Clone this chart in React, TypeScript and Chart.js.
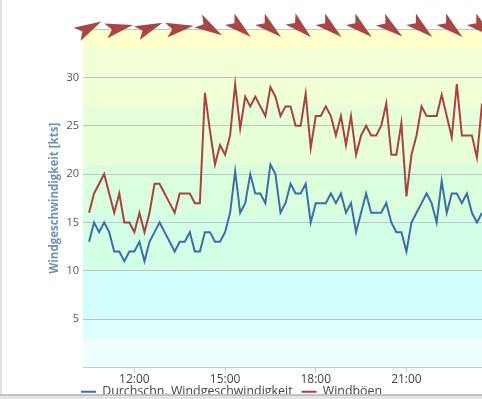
import React, { useEffect, useRef } from "react";
import { Chart, registerables } from "chart.js";

Chart.register(...registerables);

// ---- data ----
const firstTime = 630; // 10:30 in minutes of the day
const stepMinutes = 10;
const avgSpeed = [
  13, 15, 14, 15, 14, 12, 12, 11, 12, 12, 13, 11, 13, 14, 15, 14, 13, 12, 13, 13,
  14, 12, 12, 14, 14, 13, 13, 14, 16, 20.3, 16, 17, 20, 18, 18, 17, 21, 20, 16, 17,
  19, 18, 18, 19, 15, 17, 17, 17, 18, 17, 18, 16, 17, 14, 16, 18, 16, 16, 16, 17,
  15, 14, 14, 12, 15, 16, 17, 18, 17, 15, 19.3, 16, 18, 18, 17, 18, 16, 15, 16,
];
const gusts = [
  16, 18, 19, 20, 18, 16, 18, 15, 15, 14, 16, 14, 16, 19, 19, 18, 17, 16, 18, 18,
  18, 17, 17, 28.4, 24.5, 21, 23, 22, 24, 29.3, 24.7, 28, 27, 28, 27, 26, 29, 28, 26, 27,
  27, 25, 25, 28.3, 22.7, 26, 26, 27, 26, 24, 26, 23, 26, 22, 24, 25, 24, 24, 25, 27.3,
  22, 22, 25.3, 17.7, 22, 24, 27, 26, 26, 26, 28.2, 26, 23.8, 29.3, 24, 24, 24, 21.7, 27.3,
];
const arrowTimes = [630, 690, 750, 810, 870, 930, 990, 1050, 1110, 1170, 1230, 1290, 1350, 1410];
const windFromDeg = [242, 258, 248, 261, 301, 310, 310, 312, 310, 310, 308, 310, 310, 310];
const xTickMinutes = [720, 900, 1080, 1260];
const xTickLabels = ["12:00", "15:00", "18:00", "21:00"];
const xMin = 618;
const xMax = 1410;
const bandEdges = [0, 3, 5, 10, 16, 21, 27, 33, 35];
const bandColors = ["#effffe", "#dcfffe", "#d2fffd", "#d2ffe5", "#daffdc", "#e6ffd6", "#f0ffd6", "#ffffcc"];
const seriesNames = ["Durchschn. Windgeschwindigkeit", "Windböen"];
const seriesColors = ["#3d6ea6", "#a94343"];
const arrowColor = "#a84646";

const FONT = "'Open Sans', 'DejaVu Sans', sans-serif";

const toPoints = (vals: number[]) =>
  vals.map((v, i) => ({ x: firstTime + i * stepMinutes, y: v }));

const bandsPlugin = {
  id: "bands",
  beforeDraw(chart: any) {
    const { ctx, chartArea, scales } = chart;
    const y = scales.y;
    ctx.save();
    for (let i = 0; i < bandColors.length; i++) {
      const top = y.getPixelForValue(bandEdges[i + 1]);
      const bot = y.getPixelForValue(bandEdges[i]);
      ctx.fillStyle = bandColors[i];
      ctx.fillRect(chartArea.left, top, chartArea.right - chartArea.left, bot - top);
    }
    ctx.restore();
  },
};

const arrowsPlugin = {
  id: "windArrows",
  afterDraw(chart: any) {
    const { ctx, chartArea, scales } = chart;
    const x = scales.x;
    ctx.save();
    ctx.fillStyle = arrowColor;
    arrowTimes.forEach((t, i) => {
      const px = x.getPixelForValue(t);
      const ang = ((windFromDeg[i] + 90) * Math.PI) / 180;
      ctx.save();
      ctx.translate(px, chartArea.top - 1);
      ctx.rotate(ang);
      ctx.beginPath();
      ctx.moveTo(14, 0);
      ctx.lineTo(-13.6, -7.5);
      ctx.lineTo(-7.5, 0);
      ctx.lineTo(-13.6, 7.5);
      ctx.closePath();
      ctx.fill();
      ctx.restore();
    });
    ctx.restore();
  },
};

const legendShiftPlugin = {
  id: "legendShift",
  afterLayout(chart: any) {
    const lg = chart.legend;
    if (lg) {
      lg.left = 72;
      lg.top -= 9;
      lg.bottom -= 9;
    }
  },
};

export default function App() {
  const ref = useRef<HTMLCanvasElement>(null);
  useEffect(() => {
    if (!ref.current) return;
    Chart.defaults.font.family = FONT;
    const chart = new Chart(ref.current, {
      type: "line",
      data: {
        datasets: [
          {
            label: seriesNames[0],
            data: toPoints(avgSpeed),
            borderColor: seriesColors[0],
            backgroundColor: seriesColors[0],
            borderWidth: 2,
            pointRadius: 0,
            tension: 0,
          },
          {
            label: seriesNames[1],
            data: toPoints(gusts),
            borderColor: seriesColors[1],
            backgroundColor: seriesColors[1],
            borderWidth: 2,
            pointRadius: 0,
            tension: 0,
          },
        ],
      },
      options: {
        animation: false,
        responsive: false,
        maintainAspectRatio: false,
        layout: { padding: { top: 29, left: 0, right: 0, bottom: 0 } },
        scales: {
          x: {
            type: "linear",
            min: xMin,
            max: xMax,
            afterBuildTicks: (s: any) => {
              s.ticks = xTickMinutes.map((v) => ({ value: v }));
            },
            afterFit: (s: any) => {
              s.height = 18;
            },
            ticks: {
              autoSkip: false,
              maxRotation: 0,
              padding: 0,
              color: "#444",
              font: { family: FONT, size: 12 },
              callback: (v: any) => {
                const idx = xTickMinutes.indexOf(Number(v));
                return idx >= 0 ? xTickLabels[idx] : "";
              },
            },
            grid: { drawOnChartArea: false, drawTicks: true, tickLength: 5, color: "#c0d0e0" },
            border: { color: "#c0d0e0", width: 1 },
          },
          y: {
            min: 0,
            max: 35,
            afterFit: (s: any) => {
              s.width = 83;
            },
            ticks: {
              stepSize: 5,
              padding: 4,
              color: "#555",
              font: { family: FONT, size: 11 },
              callback: (v: any) => (v === 0 || v === 35 ? "" : String(v)),
            },
            grid: { color: "#c4c4c4", drawTicks: false },
            border: { display: false },
            title: {
              display: true,
              text: "Windgeschwindigkeit [kts]",
              color: "#7090b4",
              font: { family: FONT, size: 11.5, weight: "bold" },
              padding: { top: 48, bottom: 0 },
            },
          },
        },
        plugins: {
          legend: {
            position: "bottom",
            align: "start",
            labels: {
              usePointStyle: true,
              pointStyle: "line",
              pointStyleWidth: 15,
              padding: 9,
              color: "#444",
              font: { family: FONT, size: 12.4 },
            },
          },
          tooltip: { enabled: false },
        },
      } as any,
      plugins: [bandsPlugin, arrowsPlugin, legendShiftPlugin],
    });
    return () => chart.destroy();
  }, []);

  return (
    <div
      style={{
        position: "fixed",
        left: 0,
        top: 0,
        width: 482,
        height: 399,
        overflow: "hidden",
        background: "#fff",
      }}
    >
      <canvas
        ref={ref}
        width={482}
        height={417}
        style={{ position: "absolute", left: 0, top: 0, width: 482, height: 417 }}
      />
      <div style={{ position: "absolute", left: 0, top: 0, width: 2, height: 394, background: "#e2e2e2" }} />
      <div
        style={{
          position: "absolute",
          left: 0,
          top: 394,
          width: 482,
          height: 5,
          background: "#e4e4e4",
          borderTop: "2px solid #c2c2c2",
          boxSizing: "border-box",
        }}
      />
    </div>
  );
}
